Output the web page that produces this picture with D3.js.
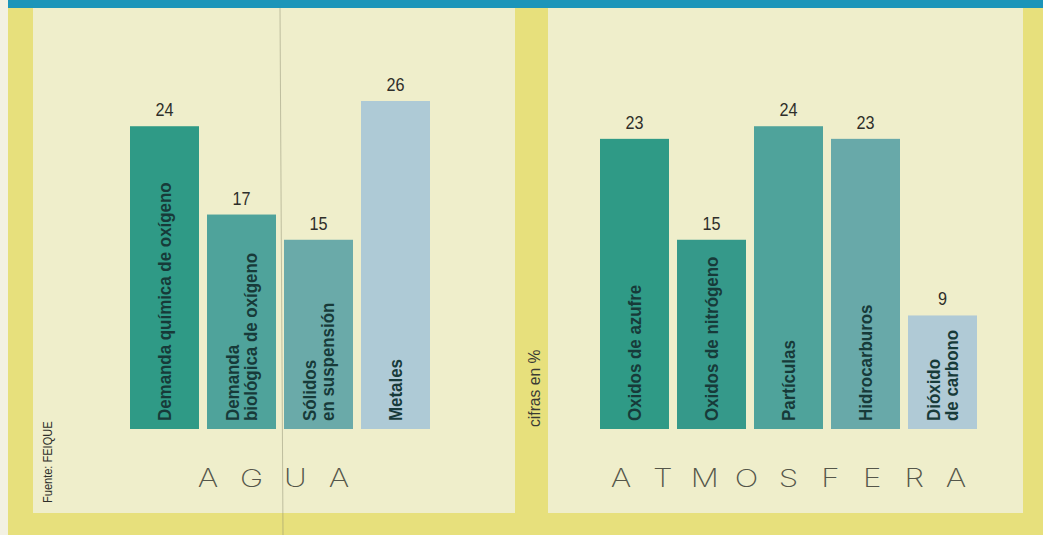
<!DOCTYPE html>
<html><head><meta charset="utf-8">
<script src="https://cdn.jsdelivr.net/npm/d3@7"></script>
<style>
html,body{margin:0;padding:0;background:#f3f1e2;}
svg{display:block;}
</style></head>
<body>
<script>
// ---- data ----
const aguaCategories = [["Demanda química de oxígeno"], ["Demanda", "biológica de oxígeno"], ["Sólidos", "en suspensión"], ["Metales"]];
const aguaValues = [24, 17, 15, 26];
const atmCategories = [["Oxidos de azufre"], ["Oxidos de nitrógeno"], ["Partículas"], ["Hidrocarburos"], ["Dióxido", "de carbono"]];
const atmValues = [23, 15, 24, 23, 9];
const panelTitles = ["AGUA", "ATMOSFERA"];
const sourceText = "Fuente: FEIQUE";
const unitText = "cifras en %";

const aguaColors = ["#2f9a86", "#4fa39b", "#6aaaa9", "#aecad6"];
const atmColors = ["#2f9a86", "#35998a", "#4fa39b", "#68a9a9", "#b0cad6"];

const W = 1043, H = 535;
const FONT = "'Liberation Sans', Arial, sans-serif";
const svg = d3.select("body").append("svg").attr("width", W).attr("height", H);

// background
svg.append("rect").attr("x", 0).attr("y", 0).attr("width", W).attr("height", H).attr("fill", "#f3f1e2");
svg.append("rect").attr("x", 8).attr("y", 0).attr("width", W - 8).attr("height", H).attr("fill", "#e7e07c");
svg.append("rect").attr("x", 8).attr("y", 0).attr("width", W - 8).attr("height", 8).attr("fill", "#1c95b9");

// panels
const panels = [
  {x0: 33, x1: 515, cats: aguaCategories, vals: aguaValues, colors: aguaColors, title: panelTitles[0], barStart: 130, tx0: 197, tx1: 350},
  {x0: 548, x1: 1023, cats: atmCategories, vals: atmValues, colors: atmColors, title: panelTitles[1], barStart: 600, tx0: 610, tx1: 967}
];
const baseY = 429;
const y = d3.scaleLinear().domain([0, 26]).range([baseY, 101]);
const step = 77, gap = 8;

panels.forEach(p => {
  svg.append("rect").attr("x", p.x0).attr("y", 8).attr("width", p.x1 - p.x0).attr("height", 505).attr("fill", "#efeecb");
});

// scan fold line
svg.append("line").attr("x1", 280).attr("x2", 283).attr("y1", 8).attr("y2", 535).attr("stroke", "#8a8a70").attr("stroke-width", 0.8).attr("opacity", 0.6);

panels.forEach(p => {
  const n = p.vals.length;
  const x = d3.scaleBand().domain(d3.range(n)).range([p.barStart, p.barStart + step * n - gap]).paddingInner(gap / step).paddingOuter(0);
  const g = svg.append("g");
  g.selectAll("rect.bar").data(p.vals).join("rect")
    .attr("x", (d, i) => x(i)).attr("width", x.bandwidth())
    .attr("y", d => y(d)).attr("height", d => baseY - y(d))
    .attr("fill", (d, i) => p.colors[i]);
  g.selectAll("text.val").data(p.vals).join("text")
    .attr("transform", (d, i) => `translate(${x(i) + x.bandwidth() / 2},${y(d) - 10}) scale(0.9,1)`)
    .attr("text-anchor", "middle")
    .attr("font-family", FONT)
    .attr("font-size", 18).attr("fill", "#2e2e2a")
    .text(d => d);
  p.cats.forEach((lines, i) => {
    const cx = x(i) + x.bandwidth() / 2;
    const lh = 17.5;
    const t = g.append("text")
      .attr("transform", `translate(${cx},${baseY - 8}) rotate(-90) scale(0.94,1)`)
      .attr("font-family", FONT)
      .attr("font-weight", "bold").attr("font-size", 18).attr("fill", "#173a39");
    lines.forEach((l, k) => {
      t.append("tspan").attr("x", 0).attr("y", 6.5 + (k - (lines.length - 1) / 2) * lh).text(l);
    });
  });
  // title
  const letters = p.title.split("");
  const tx = d3.scalePoint().domain(d3.range(letters.length)).range([p.tx0 + 11, p.tx1 - 11]);
  g.selectAll("text.title").data(letters).join("text")
    .attr("transform", (d, i) => `translate(${tx(i)},487) scale(1.25,1)`)
    .attr("text-anchor", "middle")
    .attr("font-family", "Inter, 'Open Sans', sans-serif").attr("font-weight", 200)
    .attr("font-size", 25).attr("fill", "#55564a").text(d => d);
});

svg.append("text").attr("transform", "translate(52,503) rotate(-90) scale(0.85,1)")
  .attr("font-family", FONT)
  .attr("font-size", 13).attr("fill", "#2e2e2a").text(sourceText);
svg.append("text").attr("transform", "translate(540,427) rotate(-90) scale(0.92,1)")
  .attr("font-family", FONT)
  .attr("font-size", 17).attr("fill", "#3a3a34").text(unitText);
</script>
</body></html>
